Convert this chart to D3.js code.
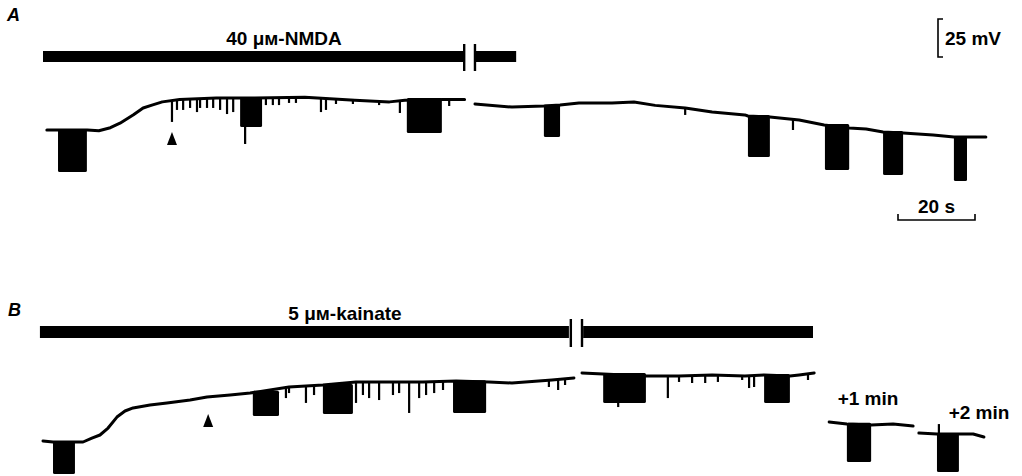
<!DOCTYPE html>
<html>
<head>
<meta charset="utf-8">
<script src="https://cdn.jsdelivr.net/npm/d3@7"></script>
<style>
  body { margin: 0; background: #ffffff; }
  svg text { font-family: "Liberation Sans", Arial, sans-serif; font-weight: bold; fill: #000000; }
</style>
</head>
<body>
<svg id="fig" width="1022" height="476"></svg>
<script>
// time in s, potential in mV relative to the resting level of each cell

// A: 40 uM NMDA
var traceA1 = [ [1,0],[4,0],[11.5,0],[14.5,-0.5],[17.5,1.5],[20,4.5],[23.5,10],[26,14.5],[28.5,16.5],[31,18.5],[35.5,20],[45,21],[55,21],[68,21.5],[81,19.5],[90,18.5],[94,19.5],[104,20],[109.5,20] ];
var traceA2 = [ [112.2,17.1],[121.8,15.1],[130.1,15.8],[134.3,16.4],[139.2,17.8],[147.8,17.8],[153.5,18.4],[159,16.2],[166.8,14.5],[173.8,11.8],[182.3,9.9],[183.1,9.2],[188.8,8.6],[196.4,6.6],[202.9,3.3],[209.4,1.3],[213.8,0.7],[218.2,-1.3],[223.4,-2],[231.2,-3.3],[236.6,-4.6],[244.9,-4.6] ];
// [start, end, top, bottom] of the current pulses
var pulsesA = [ [3.9,11.4,0,-27.6],[51.2,56.9,21,2],[94.5,103.6,20.4,-2],[130.1,134.3,16,-4.6],[183.1,188.8,9.2,-17.8],[203.1,209.4,3.3,-26.3],[218.2,223.4,-1.3,-29.6],[236.6,240,-4.6,-33.6] ];
// [time, peak]
var spikesA = [ [33.5,5.3],[34.8,13.2],[36.4,13.2],[38.2,14.5],[40,11.8],[40.8,14.5],[42.6,14.5],[44.2,14.5],[46,13.2],[47.8,10.5],[49.4,11.8],[52.5,-9.2],[57.9,16.4],[59.7,16.4],[61.3,16.4],[63.9,17.8],[65.7,17.8],[72.2,11.8],[73.5,13.2],[76.1,17.1],[80.5,17.1],[87.3,16.4],[92.7,11.2],[105.5,15.8],[166.8,9.9],[194.8,0] ];
var drugA = [ [0,109.2],[112.4,122.9] ];
var breakA = [ 109.4, 112.2 ];
var arrowA = 33.5;

// B: 5 uM kainate
var traceB1 = [ [0,0.7],[2.6,0],[8.3,0],[10.4,0],[12.7,2.6],[14.8,4.6],[16.9,9.2],[19.2,16.4],[21.3,20.4],[23.4,22.4],[27.8,24.3],[32.2,25.7],[38.2,27.6],[42.6,29.6],[48.6,30.9],[53.8,32.2],[63.9,36.2],[72.7,37.5],[81.3,39.5],[98.7,39.5],[107.3,40.1],[115.8,39.5],[121.8,38.8],[132.2,40.8],[137.9,42.1] ];
var traceB2 = [ [140,45.4],[145.5,44.7],[156.4,43.4],[165.2,43.4],[173.8,44.1],[182.3,43.4],[187.3,44.1],[194,43.4],[196.4,44.1],[200.3,45.4] ];
var pulsesB = [ [2.6,8.3,0,-21.1],[54.5,61.3,33,17.1],[72.7,80.5,37.5,18.4],[106.5,115.1,40,19.1],[145.5,156.6,44.7,25.7],[187.3,194,44,25.7] ];
var spikesB = [ [63.1,28.9],[63.9,32.2],[68.3,25.7],[70.4,30.9],[81.3,25.7],[83.1,30.9],[84.7,28.9],[87.3,27.6],[90.9,30.9],[92.5,32.2],[95.1,19.1],[97.7,28.9],[99.5,30.9],[101.6,32.2],[103.9,34.2],[131.4,36.2],[133.8,34.2],[135.6,37.5],[149.4,23],[162.3,28.9],[165.2,39.5],[168.6,38.8],[172,38.8],[175.3,39.5],[181.6,40.8],[183.4,35.5],[184.7,36.2],[198.7,40.8] ];
var drugB = [ [-0.8,136.6],[140.3,200] ];
var breakB = [ 137.1, 140 ];
var arrowB = 42.9;

// B insets after washout
var trace1min = [ [204.2,13.2],[208.8,11.8],[215.1,11.2],[220.8,11.8],[226,10.5] ];
var pulses1min = [ [208.8,215.1,12,-13.2] ];
var trace2min = [ [227.5,5.9],[232.2,5.3],[237.9,5.3],[241.6,5.3],[244.4,3.3] ];
var pulses2min = [ [232.2,237.9,5.3,-19.7] ];
var spikes2min = [ [232.7,11.8] ];

var scaleMv = 25, scaleSec = 20;


var svg = d3.select( "#fig" );
var x = d3.scaleLinear().domain( [0, 245] ).range( [43, 43 + 245 * 3.85] );
var yA = d3.scaleLinear().domain( [0, 25] ).range( [130, 92] );
var yB = d3.scaleLinear().domain( [0, 25] ).range( [442, 404] );

var levelAt = function( trace, t ) {
    for ( var i = 1; i < trace.length; i++ ) {
        if ( t <= trace[i][0] ) {
            var a = trace[i - 1], b = trace[i];
            return a[1] + ( b[1] - a[1] ) * ( t - a[0] ) / ( b[0] - a[0] );
        }
    }
    return trace[trace.length - 1][1];
};

var drawTrace = function( trace, pulses, spikes, y ) {
    var line = d3.line().x( function(d) { return x( d[0] ); } ).y( function(d) { return y( d[1] ); } );
    svg.append( "path" )
      .datum( trace )
      .attr( "d", line )
      .attr( "fill", "none" )
      .attr( "stroke", "#000" )
      .attr( "stroke-width", 3 )
      .attr( "stroke-linejoin", "round" )
      .attr( "stroke-linecap", "round" )
      ;
    svg.selectAll( null ).data( pulses ).enter().append( "rect" )
      .attr( "x", function(d) { return x( d[0] ); } )
      .attr( "width", function(d) { return x( d[1] ) - x( d[0] ); } )
      .attr( "y", function(d) { return y( d[2] ) - 1; } )
      .attr( "height", function(d) { return y( d[3] ) - y( d[2] ) + 1; } )
      .attr( "rx", 1.5 )
      .attr( "fill", "#000" )
      ;
    svg.selectAll( null ).data( spikes ).enter().append( "line" )
      .attr( "x1", function(d) { return x( d[0] ); } )
      .attr( "x2", function(d) { return x( d[0] ); } )
      .attr( "y1", function(d) { return y( levelAt( trace, d[0] ) ); } )
      .attr( "y2", function(d) { return y( d[1] ); } )
      .attr( "stroke", "#000" )
      .attr( "stroke-width", 2.2 )
      ;
};

var drawDrugBar = function( spans, brk, top, h, label, labelX, labelY ) {
    svg.selectAll( null ).data( spans ).enter().append( "rect" )
      .attr( "x", function(d) { return x( d[0] ); } )
      .attr( "width", function(d) { return x( d[1] ) - x( d[0] ); } )
      .attr( "y", top )
      .attr( "height", h )
      .attr( "fill", "#000" )
      ;
    svg.selectAll( null ).data( brk ).enter().append( "line" )
      .attr( "x1", function(d) { return x( d ); } )
      .attr( "x2", function(d) { return x( d ); } )
      .attr( "y1", top - 7 )
      .attr( "y2", top + h + 9 )
      .attr( "stroke", "#000" )
      .attr( "stroke-width", 2.4 )
      ;
    svg.append( "text" )
      .text( label )
      .attr( "x", labelX ).attr( "y", labelY )
      .style( "font-size", "19px" )
      .style( "text-anchor", "middle" )
      ;
};

var drawArrow = function( t, tipY ) {
    var cx = x( t );
    svg.append( "path" )
      .attr( "d", "M" + cx + "," + tipY + " L" + ( cx + 5 ) + "," + ( tipY + 13 ) + " L" + ( cx - 5 ) + "," + ( tipY + 13 ) + " Z" )
      .attr( "fill", "#000" )
      ;
};

// panel A
svg.append( "text" ).text( "A" ).attr( "x", 7 ).attr( "y", 21 )
  .style( "font-size", "18px" ).style( "font-style", "italic" );
drawDrugBar( drugA, breakA, 51, 11, "40 \u03bc\u043c-NMDA", 284, 45 );
drawTrace( traceA1, pulsesA.filter( function(d) { return d[0] < 110; } ), spikesA.filter( function(d) { return d[0] < 110; } ), yA );
drawTrace( traceA2, pulsesA.filter( function(d) { return d[0] > 110; } ), spikesA.filter( function(d) { return d[0] > 110; } ), yA );
drawArrow( arrowA, 132 );

// scale bars
var sbX = 938, sbTop = 19;
var sbH = yA( 0 ) - yA( scaleMv );
svg.append( "path" )
  .attr( "d", "M" + ( sbX + 5 ) + "," + sbTop + " H" + sbX + " V" + ( sbTop + sbH ) + " H" + ( sbX + 5 ) )
  .attr( "fill", "none" ).attr( "stroke", "#000" ).attr( "stroke-width", 1.6 );
svg.append( "text" ).text( scaleMv + " mV" ).attr( "x", 945 ).attr( "y", 45 )
  .style( "font-size", "19px" );
var sbW = x( scaleSec ) - x( 0 );
svg.append( "path" )
  .attr( "d", "M898,214 V220 H" + ( 898 + sbW ) + " V214" )
  .attr( "fill", "none" ).attr( "stroke", "#000" ).attr( "stroke-width", 1.6 );
svg.append( "text" ).text( scaleSec + " s" ).attr( "x", 898 + sbW / 2 ).attr( "y", 213 )
  .style( "font-size", "19px" ).style( "text-anchor", "middle" );

// panel B
svg.append( "text" ).text( "B" ).attr( "x", 8 ).attr( "y", 316 )
  .style( "font-size", "18px" ).style( "font-style", "italic" );
drawDrugBar( drugB, breakB, 326, 12, "5 \u03bc\u043c-kainate", 345, 320 );
drawTrace( traceB1, pulsesB.filter( function(d) { return d[0] < 138; } ), spikesB.filter( function(d) { return d[0] < 138; } ), yB );
drawTrace( traceB2, pulsesB.filter( function(d) { return d[0] > 138; } ), spikesB.filter( function(d) { return d[0] > 138; } ), yB );
drawArrow( arrowB, 414 );

drawTrace( trace1min, pulses1min, [], yB );
drawTrace( trace2min, pulses2min, spikes2min, yB );
svg.append( "text" ).text( "+1 min" ).attr( "x", 868 ).attr( "y", 405 )
  .style( "font-size", "19px" ).style( "text-anchor", "middle" );
svg.append( "text" ).text( "+2 min" ).attr( "x", 979 ).attr( "y", 419 )
  .style( "font-size", "19px" ).style( "text-anchor", "middle" );
</script>
</body>
</html>
